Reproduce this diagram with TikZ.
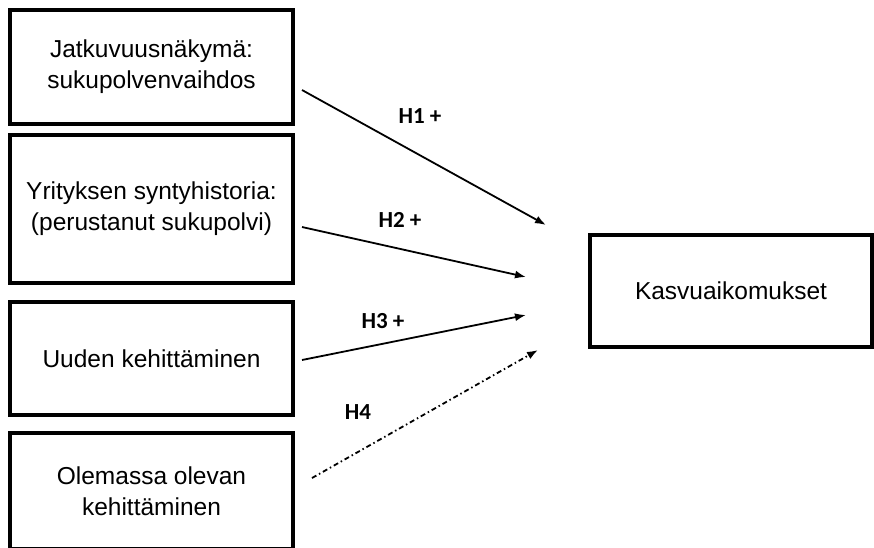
\documentclass[tikz,border=0pt]{standalone}
\usepackage{fontspec}
\setmainfont{Liberation Sans}
\newfontfamily\hypfont{Carlito}
\usetikzlibrary{arrows.meta}

\begin{document}
\begin{tikzpicture}[x=1pt,y=-1pt,
    box/.style={draw,line width=3.5pt,align=center,inner sep=0pt,
      minimum width=283pt,font=\fontsize{24.5}{31}\selectfont},
    hyp/.style={font=\hypfont\bfseries\fontsize{23}{26}\selectfont},
    link/.style={line width=1.8pt,-{Latex[length=11pt,width=8pt]}}]
  \useasboundingbox (0,0) rectangle (874,547);

  % vasen sarake
  \node[box,minimum height=114pt] (jatk) at (151.5,67) {Jatkuvuusnäkymä:\\sukupolvenvaihdos};
  \node[box,minimum height=148pt] (synty) at (151.5,209) {Yrityksen syntyhistoria:\\(perustanut sukupolvi)};
  \node[box,minimum height=113pt] (uusi) at (151.5,358.5) {Uuden kehittäminen};
  \node[box,minimum height=116pt] (olem) at (151.5,491) {Olemassa olevan\\kehittäminen};

  % tulos
  \node[box,minimum height=112pt,minimum width=282pt] (kasvu) at (731,291) {Kasvuaikomukset};

  % nuolten päät
  \coordinate (j1) at (302,90);   \coordinate (k1) at (546,225);
  \coordinate (j2) at (302,227);  \coordinate (k2) at (526,277);
  \coordinate (j3) at (302,360);  \coordinate (k3) at (526,315);
  \coordinate (j4) at (312,478);  \coordinate (k4) at (538,350);

  \draw[link] (j1) -- (k1);
  \draw[link] (j2) -- (k2);
  \draw[link] (j3) -- (k3);
  \draw[link,dash pattern=on 5pt off 3pt on 1.5pt off 3pt] (j4) -- (k4);

  \node[hyp] (h1) at (420,116) {H1 +};
  \node[hyp] (h2) at (400,220) {H2 +};
  \node[hyp] (h3) at (383,321) {H3 +};
  \node[hyp] (h4) at (358,412) {H4};
\end{tikzpicture}
\end{document}
